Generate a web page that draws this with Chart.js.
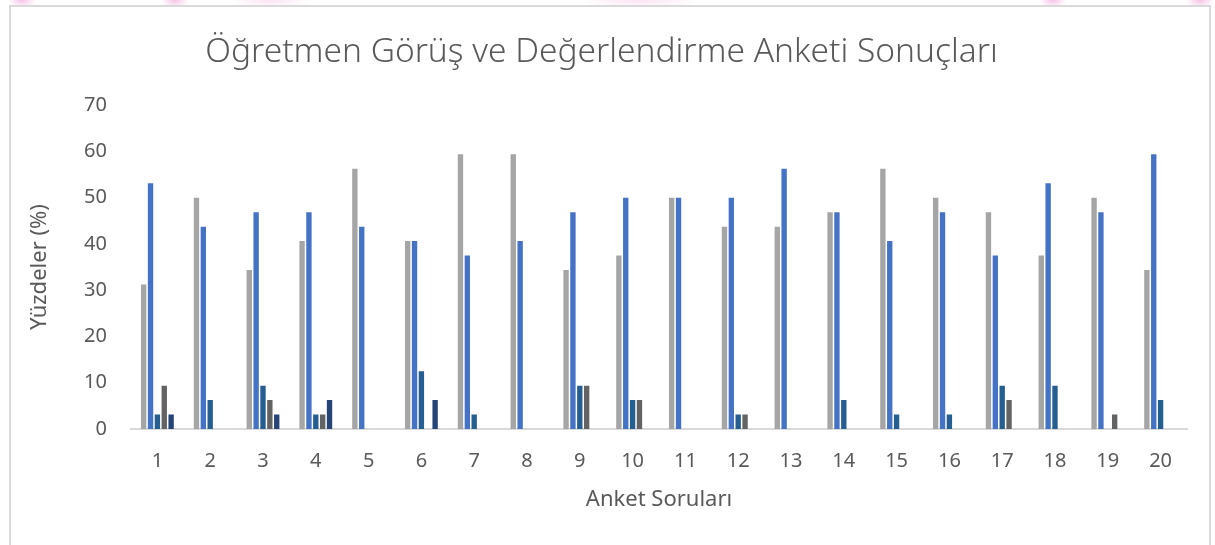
<!DOCTYPE html>
<html>
<head>
<meta charset="utf-8">
<script src="https://cdn.jsdelivr.net/npm/chart.js@4"></script>
<style>
  html, body { margin: 0; padding: 0; background: #fff; }
  body { width: 1215px; height: 545px; position: relative; overflow: hidden; }
  #band {
    position: absolute; left: 0; top: 0; width: 1215px; height: 6px;
    background:
      radial-gradient(ellipse 14px 8px at 22px 0, #f6c2e6, rgba(255,255,255,0) 100%),
      radial-gradient(ellipse 14px 8px at 175px 0, #f6c2e6, rgba(255,255,255,0) 100%),
      radial-gradient(ellipse 40px 8px at 270px 0, #fbe3f3, rgba(255,255,255,0) 100%),
      radial-gradient(ellipse 60px 8px at 640px 0, #fbe3f3, rgba(255,255,255,0) 100%),
      radial-gradient(ellipse 14px 8px at 1053px 0, #f6c2e6, rgba(255,255,255,0) 100%),
      radial-gradient(ellipse 14px 8px at 1200px 0, #f6c2e6, rgba(255,255,255,0) 100%),
      #fff;
  }
  #frame {
    position: absolute; left: 9px; top: 5px; width: 1202px; height: 560px;
    border: 2px solid #d9d9d9; box-sizing: border-box; background: #fff;
  }
  #chart { position: absolute; left: 0; top: 0; }
</style>
</head>
<body>
<div id="band"></div>
<div id="frame"></div>
<canvas id="chart" width="1215" height="545"></canvas>
<script>
// Survey questions 1..20, percentages per answer option (values are multiples of 3.125)
const questions = ['1', '2', '3', '4', '5', '6', '7', '8', '9', '10',
  '11', '12', '13', '14', '15', '16', '17', '18', '19', '20'];

const seriesGray = [31.25, 50, 34.375, 40.625, 56.25, 40.625, 59.375, 59.375, 34.375, 37.5,
  50, 43.75, 43.75, 46.875, 56.25, 50, 46.875, 37.5, 50, 34.375];
const seriesBlue = [53.125, 43.75, 46.875, 46.875, 43.75, 40.625, 37.5, 40.625, 46.875, 50,
  50, 50, 56.25, 46.875, 40.625, 46.875, 37.5, 53.125, 46.875, 59.375];
const seriesTeal = [3.125, 6.25, 9.375, 3.125, 0, 12.5, 3.125, 0, 9.375, 6.25,
  0, 3.125, 0, 6.25, 3.125, 3.125, 9.375, 9.375, 0, 6.25];
const seriesDark = [9.375, 0, 6.25, 3.125, 0, 0, 0, 0, 9.375, 6.25,
  0, 3.125, 0, 0, 0, 0, 6.25, 0, 3.125, 0];
const seriesNavy = [3.125, 0, 3.125, 6.25, 0, 6.25, 0, 0, 0, 0,
  0, 0, 0, 0, 0, 0, 0, 0, 0, 0];

const yTicks = [0, 10, 20, 30, 40, 50, 60, 70];

const textColor = '#595959';
const fontFamily = "'Noto Sans', 'Open Sans', sans-serif";

function barSet(data, color) {
  return {
    data: data,
    backgroundColor: color,
    borderWidth: 0,
    categoryPercentage: 0.65,
    barPercentage: 0.78
  };
}

new Chart(document.getElementById('chart'), {
  type: 'bar',
  data: {
    labels: questions,
    datasets: [
      barSet(seriesGray, '#a5a5a5'),
      barSet(seriesBlue, '#4472c4'),
      barSet(seriesTeal, '#255e91'),
      barSet(seriesDark, '#636363'),
      barSet(seriesNavy, '#264478')
    ]
  },
  options: {
    responsive: false,
    animation: false,
    layout: { padding: { left: 16, right: 28, top: 20, bottom: 29 } },
    plugins: {
      legend: { display: false },
      tooltip: { enabled: false },
      title: {
        display: true,
        text: 'Öğretmen Görüş ve Değerlendirme Anketi Sonuçları',
        color: textColor,
        font: { family: fontFamily, size: 33.5, weight: 300, lineHeight: 1.2 },
        padding: { top: 12, bottom: 33 }
      }
    },
    scales: {
      x: {
        afterFit: (scale) => { scale.height = 87; },
        grid: { display: false, drawTicks: false },
        border: { display: true, color: '#d9d9d9', width: 2 },
        ticks: { color: textColor, font: { family: fontFamily, size: 20, lineHeight: 1.2 }, padding: 20 },
        title: {
          display: true,
          text: 'Anket Soruları',
          color: textColor,
          font: { family: fontFamily, size: 22, lineHeight: 1.2 },
          padding: { top: 14, bottom: 3 }
        }
      },
      y: {
        min: 0,
        max: 70,
        afterBuildTicks: (scale) => { scale.ticks = yTicks.map(v => ({ value: v })); },
        afterFit: (scale) => { scale.width = 115; },
        grid: { display: false, drawTicks: false },
        border: { display: false },
        ticks: { color: textColor, font: { family: fontFamily, size: 20 }, padding: 24 },
        title: {
          display: true,
          text: 'Yüzdeler (%)',
          color: textColor,
          font: { family: fontFamily, size: 22, lineHeight: 1.2 },
          padding: { top: 11, bottom: 0 }
        }
      }
    }
  }
});
</script>
</body>
</html>
